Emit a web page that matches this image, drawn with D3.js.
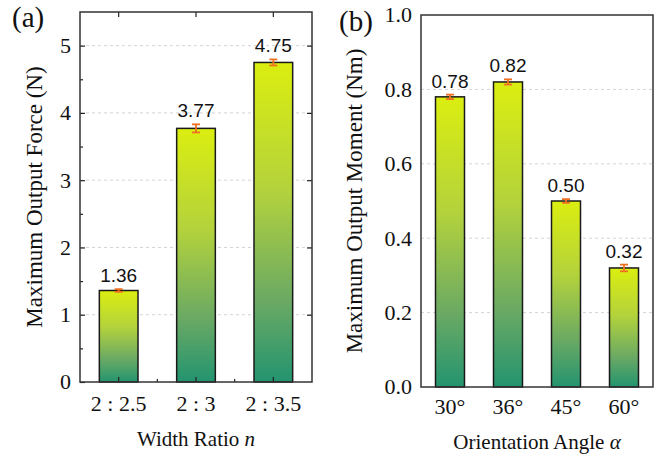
<!DOCTYPE html>
<html>
<head>
<meta charset="utf-8">
<script src="https://cdn.jsdelivr.net/npm/d3@7"></script>
<style>
html,body{margin:0;padding:0;background:#fff;}
svg{display:block;}
</style>
</head>
<body>
<svg id="chart" width="662" height="460"></svg>
<script>
// Panel (a)
const catsA = ["2 : 2.5", "2 : 3", "2 : 3.5"];
const valsA = [1.36, 3.77, 4.75];
const errA = [0.02, 0.06, 0.045];
const labelsA = ["1.36", "3.77", "4.75"];
const yTicksA = [0, 1, 2, 3, 4, 5];
const yMinorA = [0.5, 1.5, 2.5, 3.5, 4.5];

// Panel (b)
const catsB = ["30°", "36°", "45°", "60°"];
const valsB = [0.78, 0.82, 0.50, 0.32];
const errB = [0.006, 0.007, 0.005, 0.009];
const labelsB = ["0.78", "0.82", "0.50", "0.32"];
const yTicksB = [0.0, 0.2, 0.4, 0.6, 0.8, 1.0];

const svg = d3.select("#chart");
const defs = svg.append("defs");
const grad = defs.append("linearGradient").attr("id", "barGrad")
  .attr("x1", 0).attr("y1", 0).attr("x2", 0).attr("y2", 1);
[[0, "#dbee10"], [0.4, "#b3d23c"], [0.75, "#6aa964"], [1, "#23946f"]].forEach(s =>
  grad.append("stop").attr("offset", s[0]).attr("stop-color", s[1]));

const serif = "'Liberation Serif','Times New Roman',serif";
const sans = "'Liberation Sans',Arial,sans-serif";

function panel(o) {
  const g = svg.append("g");
  const x = d3.scaleBand().domain(o.cats).range([o.x0, o.x1]).paddingInner(0.5).paddingOuter(0.25);
  const y = d3.scaleLinear().domain(o.ydom).range([o.y1, o.y0]);

  // gridlines
  g.append("g").selectAll("line").data(o.grid).join("line")
    .attr("x1", o.x0).attr("x2", o.x1)
    .attr("y1", d => y(d)).attr("y2", d => y(d))
    .attr("stroke", "#d4d4d4").attr("stroke-width", 1).attr("stroke-dasharray", "3,3");

  // bars
  g.append("g").selectAll("rect").data(o.vals).join("rect")
    .attr("x", (d, i) => x(o.cats[i]))
    .attr("y", d => y(d))
    .attr("width", x.bandwidth())
    .attr("height", d => y(0) - y(d))
    .attr("fill", "url(#barGrad)")
    .attr("stroke", "#1a1a1a").attr("stroke-width", 1.5);

  // axis ticks (inward)
  if (o.ticks) {
    const left = d3.axisLeft(y).tickValues(o.yticks).tickSize(-5).tickFormat("");
    g.append("g").attr("transform", `translate(${o.x0},0)`).call(left)
      .call(a => a.select(".domain").remove())
      .selectAll("line").attr("stroke", "#222").attr("stroke-width", 1.2);
    const leftMinor = d3.axisLeft(y).tickValues(o.yminor).tickSize(-3).tickFormat("");
    g.append("g").attr("transform", `translate(${o.x0},0)`).call(leftMinor)
      .call(a => a.select(".domain").remove())
      .selectAll("line").attr("stroke", "#222").attr("stroke-width", 1.2);
    const right = d3.axisRight(y).tickValues(o.yticks.filter(d => d > 0)).tickSize(-5).tickFormat("");
    g.append("g").attr("transform", `translate(${o.x1},0)`).call(right)
      .call(a => a.select(".domain").remove())
      .selectAll("line").attr("stroke", "#222").attr("stroke-width", 1.2);
    const bottom = d3.axisBottom(x).tickSize(-5).tickFormat("");
    g.append("g").attr("transform", `translate(0,${o.y1})`).call(bottom)
      .call(a => a.select(".domain").remove())
      .selectAll("line").attr("stroke", "#222").attr("stroke-width", 1.2);
    const top = d3.axisTop(x).tickSize(-5).tickFormat("");
    g.append("g").attr("transform", `translate(0,${o.y0})`).call(top)
      .call(a => a.select(".domain").remove())
      .selectAll("line").attr("stroke", "#222").attr("stroke-width", 1.2);
    // minor ticks between categories on bottom
    const mids = o.cats.slice(1).map((c, i) => (x(o.cats[i]) + x.bandwidth() / 2 + x(c) + x.bandwidth() / 2) / 2);
    g.append("g").selectAll("line").data(mids).join("line")
      .attr("x1", d => d).attr("x2", d => d)
      .attr("y1", o.y1).attr("y2", o.y1 - 3)
      .attr("stroke", "#222").attr("stroke-width", 1.2);
  }

  // frame
  g.append("rect").attr("x", o.x0).attr("y", o.y0)
    .attr("width", o.x1 - o.x0).attr("height", o.y1 - o.y0)
    .attr("fill", "none").attr("stroke", "#333").attr("stroke-width", 1.5);

  // error bars
  const eb = g.append("g").attr("stroke", "#f07022").attr("stroke-width", 1.8);
  o.vals.forEach((v, i) => {
    const cx = x(o.cats[i]) + x.bandwidth() / 2;
    const e = o.errs[i];
    eb.append("line").attr("x1", cx).attr("x2", cx).attr("y1", y(v - e)).attr("y2", y(v + e));
    eb.append("line").attr("x1", cx - 4).attr("x2", cx + 4).attr("y1", y(v - e)).attr("y2", y(v - e));
    eb.append("line").attr("x1", cx - 4).attr("x2", cx + 4).attr("y1", y(v + e)).attr("y2", y(v + e));
  });

  // value labels
  g.append("g").selectAll("text").data(o.vals).join("text")
    .attr("x", (d, i) => x(o.cats[i]) + x.bandwidth() / 2)
    .attr("y", (d, i) => y(d + o.errs[i]) - 7)
    .attr("text-anchor", "middle")
    .attr("font-family", sans).attr("font-size", 19).attr("fill", "#111")
    .text((d, i) => o.labels[i]);

  // y tick labels
  g.append("g").selectAll("text").data(o.yticks).join("text")
    .attr("x", o.x0 - 9).attr("y", d => y(d)).attr("dy", "0.34em")
    .attr("text-anchor", "end")
    .attr("font-family", serif).attr("font-size", 22).attr("fill", "#111")
    .text(d => o.yfmt(d));

  // x tick labels
  g.append("g").selectAll("text").data(o.cats).join("text")
    .attr("x", d => x(d) + x.bandwidth() / 2).attr("y", o.y1 + o.xlabOff)
    .attr("text-anchor", "middle")
    .attr("font-family", serif).attr("font-size", 22).attr("fill", "#111")
    .text(d => d);

  // x title
  const xt = g.append("text").attr("x", (o.x0 + o.x1) / 2).attr("y", o.xtitleY)
    .attr("text-anchor", "middle")
    .attr("font-family", serif).attr("font-size", 21).attr("fill", "#111");
  xt.append("tspan").text(o.xtitle);
  xt.append("tspan").attr("font-style", "italic").text(o.xtitleIt);

  // y title
  g.append("text")
    .attr("transform", `translate(${o.ytitleX},${(o.y0 + o.y1) / 2}) rotate(-90)`)
    .attr("text-anchor", "middle")
    .attr("font-family", serif).attr("font-size", 23).attr("fill", "#111")
    .text(o.ytitle);

  // panel label
  g.append("text").attr("x", o.plx).attr("y", o.ply)
    .attr("font-family", serif).attr("font-size", 29).attr("fill", "#111")
    .text(o.plabel);
}

panel({
  cats: catsA, vals: valsA, errs: errA, labels: labelsA,
  x0: 80, x1: 312, y0: 12, y1: 382, ydom: [0, 5.5],
  yticks: yTicksA, yminor: yMinorA, grid: [1, 2, 3, 4, 5], ticks: true,
  yfmt: d3.format("d"), xlabOff: 29, xtitleY: 446,
  xtitle: "Width Ratio ", xtitleIt: "n",
  ytitle: "Maximum Output Force (N)", ytitleX: 42,
  plabel: "(a)", plx: 12, ply: 27
});

panel({
  cats: catsB, vals: valsB, errs: errB, labels: labelsB,
  x0: 421, x1: 653, y0: 15, y1: 387, ydom: [0, 1.0],
  yticks: yTicksB, yminor: [], grid: [0.2, 0.4, 0.6, 0.8], ticks: false,
  yfmt: d3.format(".1f"), xlabOff: 27, xtitleY: 449,
  xtitle: "Orientation Angle ", xtitleIt: "α",
  ytitle: "Maximum Output Moment (Nm)", ytitleX: 362,
  plabel: "(b)", plx: 339, ply: 31
});
</script>
</body>
</html>
